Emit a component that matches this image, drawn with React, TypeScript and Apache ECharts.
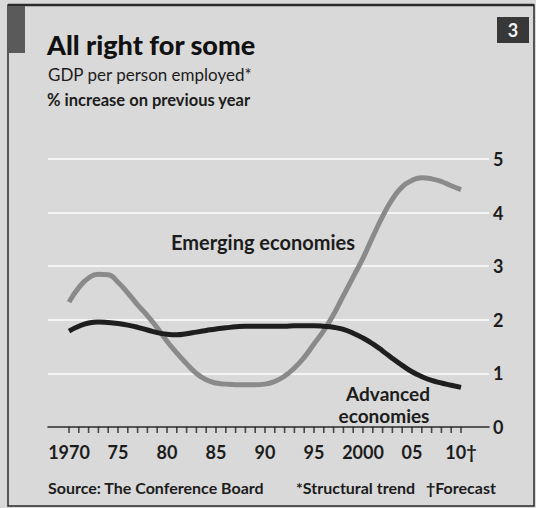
import React, { useEffect, useRef } from "react";
import * as echarts from "echarts";

const years: number[] = Array.from({ length: 41 }, (_, i) => 1970 + i);

const emerging: number[] = [
  2.33, 2.6, 2.78, 2.85, 2.84, 2.7, 2.5, 2.28, 2.08, 1.85,
  1.6, 1.38, 1.18, 1.0, 0.88, 0.82, 0.8, 0.79, 0.79, 0.79,
  0.8, 0.85, 0.95, 1.1, 1.3, 1.55, 1.8, 2.1, 2.45, 2.8,
  3.15, 3.55, 3.93, 4.25, 4.48, 4.6, 4.65, 4.63, 4.58, 4.5,
  4.43,
];

const advanced: number[] = [
  1.79, 1.88, 1.94, 1.96, 1.95, 1.93, 1.9, 1.86, 1.81, 1.76,
  1.73, 1.72, 1.74, 1.77, 1.8, 1.83, 1.85, 1.87, 1.88, 1.88,
  1.88, 1.88, 1.88, 1.89, 1.89, 1.89, 1.88, 1.86, 1.82, 1.75,
  1.66, 1.55, 1.42, 1.28, 1.15, 1.03, 0.94, 0.87, 0.82, 0.78,
  0.74,
];

const xLabelYears: number[] = [1970, 1975, 1980, 1985, 1990, 1995, 2000, 2005, 2010];
const xLabels: string[] = ["1970", "75", "80", "85", "90", "95", "2000", "05", "10\u2020"];
const yTicks: number[] = [0, 1, 2, 3, 4, 5];

const FONT = "Lato, 'Open Sans', sans-serif";
const INK = "#1c1c1c";

export default function App() {
  const ref = useRef<HTMLDivElement>(null);

  useEffect(() => {
    if (!ref.current) return;
    const chart = echarts.init(ref.current, undefined, { renderer: "svg" });
    const pxPerYear = 9.8;
    const x0 = 69;
    const left = 48;
    const right = 489;
    const xmin = 1970 - (x0 - left) / pxPerYear;
    const xmax = 1970 + (right - x0) / pxPerYear;

    chart.setOption({
      animation: false,
      backgroundColor: "#d9d9d9",
      grid: { left: left, right: 536 - right, top: 159, bottom: 508 - 427, containLabel: false },
      xAxis: {
        type: "value",
        min: xmin,
        max: xmax,
        axisLine: { show: true, lineStyle: { color: "#222", width: 1.5 } },
        axisTick: { show: false },
        axisLabel: {
          show: true,
          customValues: xLabelYears,
          margin: 16,
          color: INK,
          fontFamily: FONT,
          fontWeight: "bold",
          fontSize: 18,
          formatter: (v: number) => {
            const i = xLabelYears.indexOf(Math.round(v));
            return i >= 0 ? xLabels[i] : "";
          },
        },
        splitLine: { show: false },
      },
      yAxis: {
        type: "value",
        position: "right",
        min: 0,
        max: 5,
        interval: 1,
        axisLine: { show: false },
        axisTick: { show: false },
        axisLabel: {
          margin: 4,
          color: INK,
          fontFamily: FONT,
          fontWeight: "bold",
          fontSize: 18,
          formatter: (v: number) => (yTicks.includes(v) ? String(v) : ""),
        },
        splitLine: { show: true, lineStyle: { color: "#f4f4f4", width: 2 } },
      },
      series: [
        {
          name: "ticks",
          type: "scatter",
          symbol: "rect",
          symbolSize: [1.6, 6],
          symbolOffset: [0, 3],
          clip: false,
          silent: true,
          data: years.map((y) => [y, 0]),
          itemStyle: { color: "#222" },
          z: 5,
        },
        {
          name: "Emerging economies",
          type: "line",
          smooth: 0.5,
          symbol: "none",
          data: years.map((y, i) => [y, emerging[i]]),
          lineStyle: { color: "#8a8a8a", width: 5 },
          z: 3,
        },
        {
          name: "Advanced economies",
          type: "line",
          smooth: 0.5,
          symbol: "none",
          data: years.map((y, i) => [y, advanced[i]]),
          lineStyle: { color: "#1e1e1e", width: 5 },
          z: 4,
        },
      ],
      graphic: [
        { type: "rect", shape: { x: 8, y: 5, width: 526, height: 501 }, style: { fill: "none", stroke: "#2a2a2a", lineWidth: 1.5 }, silent: true },
        { type: "line", shape: { x1: 8, y1: 5, x2: 534, y2: 5 }, style: { stroke: "#2a2a2a", lineWidth: 2.5 } },
        { type: "rect", shape: { x: 8, y: 6, width: 17, height: 47 }, style: { fill: "#5a5a5a" } },
        { type: "rect", shape: { x: 497, y: 17, width: 32, height: 26 }, style: { fill: "#383838" } },
        { type: "text", x: 513, y: 30, style: { text: "3", fill: "#f2f2f2", font: `bold 18px ${FONT}`, textAlign: "center", textVerticalAlign: "middle" } },
        { type: "text", x: 47, y: 44, style: { text: "All right for some", fill: "#111", font: `900 27px ${FONT}`, textAlign: "left", textVerticalAlign: "middle" } },
        { type: "text", x: 48, y: 74, style: { text: "GDP per person employed*", fill: INK, font: `17px ${FONT}`, textAlign: "left", textVerticalAlign: "middle" } },
        { type: "text", x: 47, y: 100, style: { text: "% increase on previous year", fill: INK, font: `bold 16.5px ${FONT}`, textAlign: "left", textVerticalAlign: "middle" } },
        { type: "text", x: 263, y: 242, style: { text: "Emerging economies", fill: INK, font: `bold 20px ${FONT}`, textAlign: "center", textVerticalAlign: "middle" } },
        { type: "text", x: 388, y: 393, style: { text: "Advanced", fill: INK, font: `bold 19px ${FONT}`, textAlign: "center", textVerticalAlign: "middle" } },
        { type: "text", x: 384, y: 415, style: { text: "economies", fill: INK, font: `bold 19px ${FONT}`, textAlign: "center", textVerticalAlign: "middle" } },
        { type: "text", x: 48, y: 487, style: { text: "Source: The Conference Board", fill: INK, font: `bold 16px ${FONT}`, textAlign: "left", textVerticalAlign: "middle" } },
        { type: "text", x: 296, y: 487, style: { text: "*Structural trend", fill: INK, font: `bold 16px ${FONT}`, textAlign: "left", textVerticalAlign: "middle" } },
        { type: "text", x: 426, y: 487, style: { text: "\u2020Forecast", fill: INK, font: `bold 16px ${FONT}`, textAlign: "left", textVerticalAlign: "middle" } },
      ],
    });
    return () => chart.dispose();
  }, []);

  return (
    <div
      ref={ref}
      style={{ position: "fixed", left: 0, top: 0, width: 536, height: 508 }}
    />
  );
}
